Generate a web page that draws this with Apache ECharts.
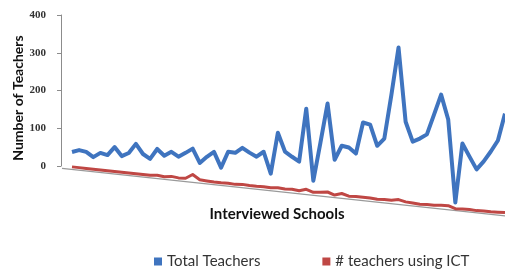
<!DOCTYPE html>
<html>
<head>
<meta charset="utf-8">
<script src="https://cdn.jsdelivr.net/npm/echarts@6/dist/echarts.min.js"></script>
<style>
html,body{margin:0;padding:0;background:#fff;}
#chart{width:505px;height:270px;}
</style>
</head>
<body>
<div id="chart"></div>
<script>
// values, one per interviewed school
var totalTeachers = [37,44,41,29,42,38,61,39,49,75,50,39,67,51,63,52,64,77,41,59,
    74,34,78,77,92,81,72,87,31,141,93,81,70,212,23,126,231,84,123,120,
    106,190,186,132,153,271,398,203,152,162,175,229,284,220,2,160,127,95,118,146,
    177,250];
var teachersICT = [3,3,3,3,3,3,3,3,3,3,3,3,5,3,6,4,5,17,5,4,
    3,3,4,3,5,4,4,5,4,6,5,6,4,10,4,6,9,3,9,4,
    5,5,5,4,5,5,9,5,4,3,4,4,6,7,1,2,3,2,3,3,
    4,5];
var yTicks = [0, 100, 200, 300, 400];
var schools = (function () {
    var res = [];
    for (var i = 1; i <= totalTeachers.length; i++) res.push('School ' + i);
    return res;
})();

var blue = '#3f74bf';
var red = '#bf4744';

// the picture is an Excel 3-D line, the floor leans down to the right
function ribbon(values, slope, lift, color, width, floor) {
    return function (params, api) {
        if (params.dataIndex !== 0) return;
        var origin = api.coord([0, 0]);
        var pts = values.map(function (v, i) {
            var p = api.coord([i, v]);
            return [p[0], p[1] + lift + slope * (p[0] - origin[0])];
        });
        var children = [];
        if (floor) {
            var xa = origin[0] - 10, xb = origin[0] + 450;
            children.push({
                type: 'line',
                shape: {x1: xa, y1: origin[1] + lift + 1.5 + slope * (xa - origin[0]),
                        x2: xb, y2: origin[1] + lift + 1.5 + slope * (xb - origin[0])},
                style: {stroke: '#9a9a9a', lineWidth: 1.2}
            });
        }
        children.push({
            type: 'polyline',
            shape: {points: pts},
            style: {stroke: color, lineWidth: width, fill: null, lineJoin: 'round'}
        });
        return {type: 'group', children: children};
    };
}

var chart = echarts.init(document.getElementById('chart'));

var option = {
    animation: false,
    grid: {left: 72, top: 15, bottom: 104, right: -6.2},
    xAxis: {
        type: 'category',
        data: schools,
        boundaryGap: false,
        show: false
    },
    yAxis: {
        type: 'value',
        min: yTicks[0],
        max: yTicks[yTicks.length - 1],
        interval: 100,
        offset: 11,
        axisLine: {show: true, lineStyle: {color: '#8c8c8c', width: 1}},
        axisTick: {show: true, length: 4, lineStyle: {color: '#8c8c8c'}},
        splitLine: {show: false},
        axisLabel: {
            margin: 15,
            fontFamily: 'Liberation Serif',
            fontWeight: 'bold',
            fontSize: 11,
            color: '#333'
        }
    },
    legend: {
        data: ['Total Teachers', '# teachers using ICT'],
        left: 149,
        top: 249,
        icon: 'rect',
        itemWidth: 8,
        itemHeight: 8,
        itemGap: 62,
        textStyle: {fontFamily: 'Lato', fontSize: 15, color: '#333'}
    },
    graphic: [
        {
            type: 'text',
            x: 18,
            y: 98,
            rotation: Math.PI / 2,
            style: {
                text: 'Number of Teachers',
                font: 'bold 14px Lato',
                fill: '#111',
                textAlign: 'center',
                textVerticalAlign: 'middle'
            }
        },
        {
            type: 'text',
            x: 277,
            y: 214,
            style: {
                text: 'Interviewed Schools',
                font: 'bold 15px Lato',
                fill: '#111',
                textAlign: 'center',
                textVerticalAlign: 'middle'
            }
        }
    ],
    series: [
        {
            name: 'Total Teachers',
            type: 'custom',
            clip: false,
            itemStyle: {color: blue},
            encode: {x: 0, y: 1},
            data: totalTeachers.map(function (v, i) { return [i, v]; }),
            renderItem: ribbon(totalTeachers, 0.097, 0, blue, 4, false)
        },
        {
            name: '# teachers using ICT',
            type: 'custom',
            clip: false,
            itemStyle: {color: red},
            encode: {x: 0, y: 1},
            data: teachersICT.map(function (v, i) { return [i, v]; }),
            renderItem: ribbon(teachersICT, 0.1072, 2, red, 3, true)
        }
    ]
};

chart.setOption(option);
</script>
</body>
</html>
